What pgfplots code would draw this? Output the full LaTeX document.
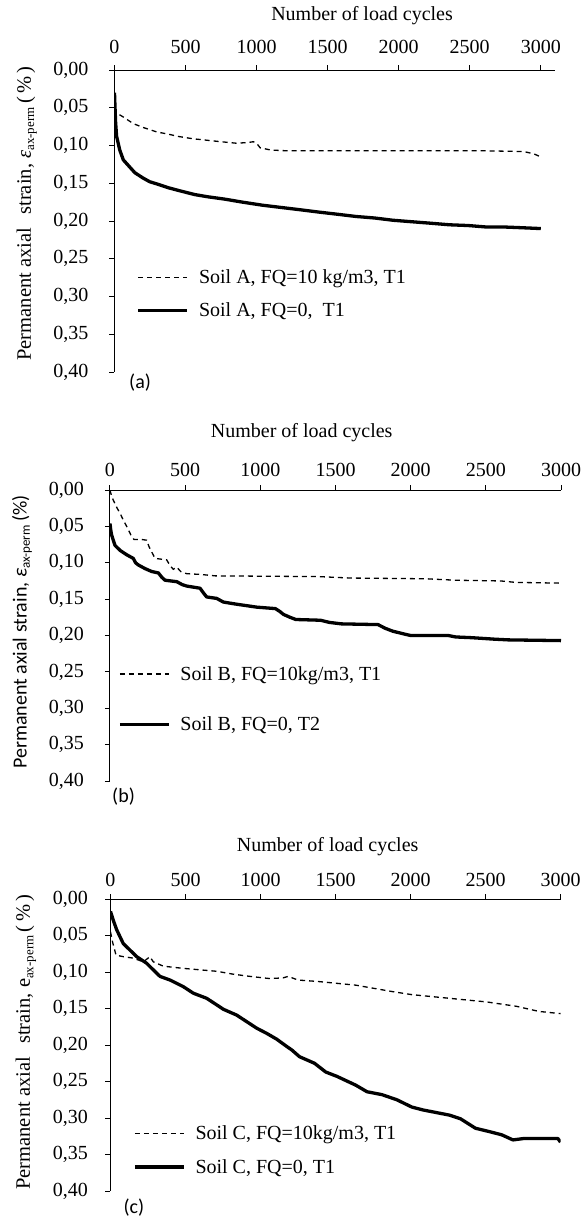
\documentclass[border=0pt]{standalone}
\usepackage{fontspec}
\setmainfont{Liberation Serif}
\newfontfamily\carlito{Carlito}
\usepackage{pgfplots}
\pgfplotsset{compat=1.18}
\usepackage{pgfplotstable}

\pgfplotstableread{
N v
0 0.030
3 0.046
8 0.070
15 0.088
37 0.106
62 0.119
100 0.127
143 0.136
200 0.143
248 0.148
300 0.151
380 0.156
460 0.160
565 0.165
660 0.168
775 0.171
900 0.175
1039 0.179
1170 0.182
1303 0.185
1430 0.188
1567 0.191
1700 0.194
1830 0.196
1960 0.199
2094 0.201
2230 0.203
2358 0.205
2490 0.206
2621 0.208
2750 0.208
2880 0.209
3000 0.210
}\aSolid

\pgfplotstableread{
N v
0 0.050
15 0.057
60 0.062
132 0.071
200 0.076
297 0.082
380 0.085
449 0.088
550 0.091
649 0.093
750 0.095
860 0.097
940 0.096
977 0.095
1000 0.097
1025 0.103
1100 0.106
1213 0.107
1400 0.107
1800 0.107
2200 0.107
2600 0.107
2880 0.108
2950 0.111
3000 0.115
}\aDash

\pgfplotstableread{
N v
0 0.046
5 0.055
11 0.062
33 0.076
67 0.083
111 0.089
155 0.094
170 0.100
188 0.103
233 0.108
277 0.112
322 0.114
345 0.120
366 0.124
444 0.126
480 0.130
510 0.132
599 0.135
620 0.141
643 0.147
710 0.149
754 0.154
843 0.157
910 0.159
976 0.161
1100 0.163
1130 0.167
1154 0.171
1198 0.175
1236 0.178
1400 0.179
1460 0.182
1540 0.184
1783 0.185
1830 0.190
1880 0.194
1958 0.198
2000 0.200
2250 0.200
2300 0.202
2408 0.203
2555 0.205
2650 0.206
3000 0.207
}\bSolid

\pgfplotstableread{
N v
0 0.000
10 0.008
22 0.014
45 0.024
67 0.032
90 0.042
111 0.050
144 0.064
160 0.068
211 0.068
244 0.069
260 0.078
277 0.085
300 0.094
377 0.096
400 0.104
421 0.109
444 0.106
470 0.112
510 0.115
600 0.116
700 0.118
1385 0.119
1600 0.121
2100 0.122
2300 0.124
2600 0.125
2700 0.127
3000 0.128
}\bDash

\pgfplotstableread{
N v
0 0.017
20 0.030
41 0.042
85 0.061
130 0.070
175 0.079
241 0.088
285 0.097
330 0.106
397 0.111
485 0.120
552 0.129
641 0.136
708 0.145
752 0.151
841 0.159
908 0.168
975 0.177
1041 0.184
1108 0.192
1175 0.202
1210 0.207
1260 0.216
1360 0.225
1435 0.237
1510 0.243
1635 0.255
1710 0.264
1810 0.268
1909 0.275
2009 0.285
2084 0.289
2259 0.296
2333 0.301
2433 0.314
2533 0.319
2608 0.323
2683 0.330
2758 0.328
2982 0.328
3000 0.333
}\cSolid

\pgfplotstableread{
N v
0 0.045
15 0.060
37 0.077
87 0.079
152 0.081
219 0.086
263 0.079
285 0.086
352 0.092
485 0.095
597 0.097
708 0.099
819 0.103
930 0.106
1063 0.109
1150 0.108
1185 0.106
1250 0.111
1385 0.113
1635 0.118
1884 0.127
2009 0.131
2259 0.136
2508 0.141
2707 0.147
2857 0.154
3000 0.157
}\cDash

\pgfplotsset{
  panel/.style={
    scale only axis,
    clip mode=individual,
    y dir=reverse,
    ymin=0, ymax=0.4,
    xmin=0,
    axis x line*=top,
    axis y line*=left,
    axis line style={line width=1pt,-},
    tick align=outside,
    major tick length=5pt,
    tick style={line width=1pt, black},
    xtick={0,500,1000,1500,2000,2500,3000},
    ytick={0,0.05,0.1,0.15,0.2,0.25,0.3,0.35,0.4},
    /pgf/number format/assume math mode=true,
    tick label style={font=\fontsize{20}{24}\selectfont, inner sep=0pt},
    xticklabel style={/pgf/number format/1000 sep={}},
    yticklabel style={/pgf/number format/.cd, use comma, fixed, fixed zerofill, precision=2},
    title style={font=\fontsize{20}{24}\selectfont, anchor=center, inner sep=0pt, yshift=0pt},
    ylabel style={anchor=center, inner sep=0pt, rotate=0},
    legend cell align=left,
    legend image code/.code={\draw[##1] (0pt,0pt) -- (49pt,0pt);},
    legend style={draw=none, fill=none, inner sep=0pt, anchor=west,
      nodes={inner sep=0pt}, column sep=10pt,
      font=\fontsize{20}{24}\selectfont},
  },
  solidc/.style={black, line width=3.3pt, line join=round},
  dashc/.style={black, line width=1.3pt, dash pattern=on 5pt off 4pt},
}

\begin{document}
\begin{tikzpicture}
\path[use as bounding box] (0,0) rectangle (587pt,-1219pt);

% ---------- (a)
\begin{axis}[panel,
  at={(114.5pt,-372pt)}, anchor=south west,
  width=440.5pt, height=302pt, xmax=3100,
  xticklabel shift=11pt, yticklabel shift=21pt,
  title={Number of load cycles},
  title style={at={(axis description cs:0.562,1.160)}},
  ylabel={\fontsize{20.5}{24}\selectfont Permanent axial\hspace{0.4em} strain, \textit{ε}\raisebox{-0.35ex}{\fontsize{13}{14}\selectfont ax-perm}\,(\,\%\,)},
  ylabel style={at={(axis description cs:-0.199,0.525)}},
  legend style={at={(axis description cs:0.050,0.258)}, row sep=18pt},
]
\addplot[dashc] table[x=N,y=v] {\aDash};
\addlegendentry{Soil A, FQ=10 kg/m3, T1}
\addplot[solidc] table[x=N,y=v] {\aSolid};
\addlegendentry{Soil A, FQ=0,\ \ T1}
\node[font=\carlito\fontsize{20}{24}\selectfont] at (axis description cs:0.058,-0.036) {(a)};
\end{axis}

% ---------- (b)
\begin{axis}[panel,
  at={(110pt,-781pt)}, anchor=south west,
  width=451pt, height=291pt, xmax=3000,
  xticklabel shift=8pt, yticklabel shift=21pt,
  title={Number of load cycles},
  title style={at={(axis description cs:0.425,1.178)}},
  ylabel={\carlito\fontsize{20}{24}\selectfont Permanent axial strain, \textit{ε}\raisebox{-0.35ex}{\fontsize{13}{14}\selectfont ax-perm}\,(\%)},
  ylabel style={at={(axis description cs:-0.195,0.512)}},
  legend style={at={(axis description cs:0.0177,0.281)}, row sep=35pt},
]
\addplot[dashc] table[x=N,y=v] {\bDash};
\addlegendentry{Soil B, FQ=10kg/m3, T1}
\addplot[solidc] table[x=N,y=v] {\bSolid};
\addlegendentry{Soil B, FQ=0, T2}
\node[font=\carlito\fontsize{20}{24}\selectfont] at (axis description cs:0.030,-0.055) {(b)};
\end{axis}

% ---------- (c)
\begin{axis}[panel,
  at={(110.5pt,-1191pt)}, anchor=south west,
  width=450pt, height=292pt, xmax=3000,
  xticklabel shift=7pt, yticklabel shift=17.5pt,
  title={Number of load cycles},
  title style={at={(axis description cs:0.4825,1.160)}},
  ylabel={\fontsize{20.5}{24}\selectfont Permanent axial\hspace{0.4em} strain, e\raisebox{-0.35ex}{\fontsize{13}{14}\selectfont ax-perm}\,(\,\%\,)},
  ylabel style={at={(axis description cs:-0.188,0.510)}},
  legend style={at={(axis description cs:0.050,0.140)}, row sep=18.4pt},
]
\addplot[dashc] table[x=N,y=v] {\cDash};
\addlegendentry{Soil C, FQ=10kg/m3, T1}
\addplot[solidc] table[x=N,y=v] {\cSolid};
\addlegendentry{Soil C, FQ=0, T1}
\node[font=\carlito\fontsize{20}{24}\selectfont] at (axis description cs:0.052,-0.058) {(c)};
\end{axis}
\end{tikzpicture}
\end{document}
